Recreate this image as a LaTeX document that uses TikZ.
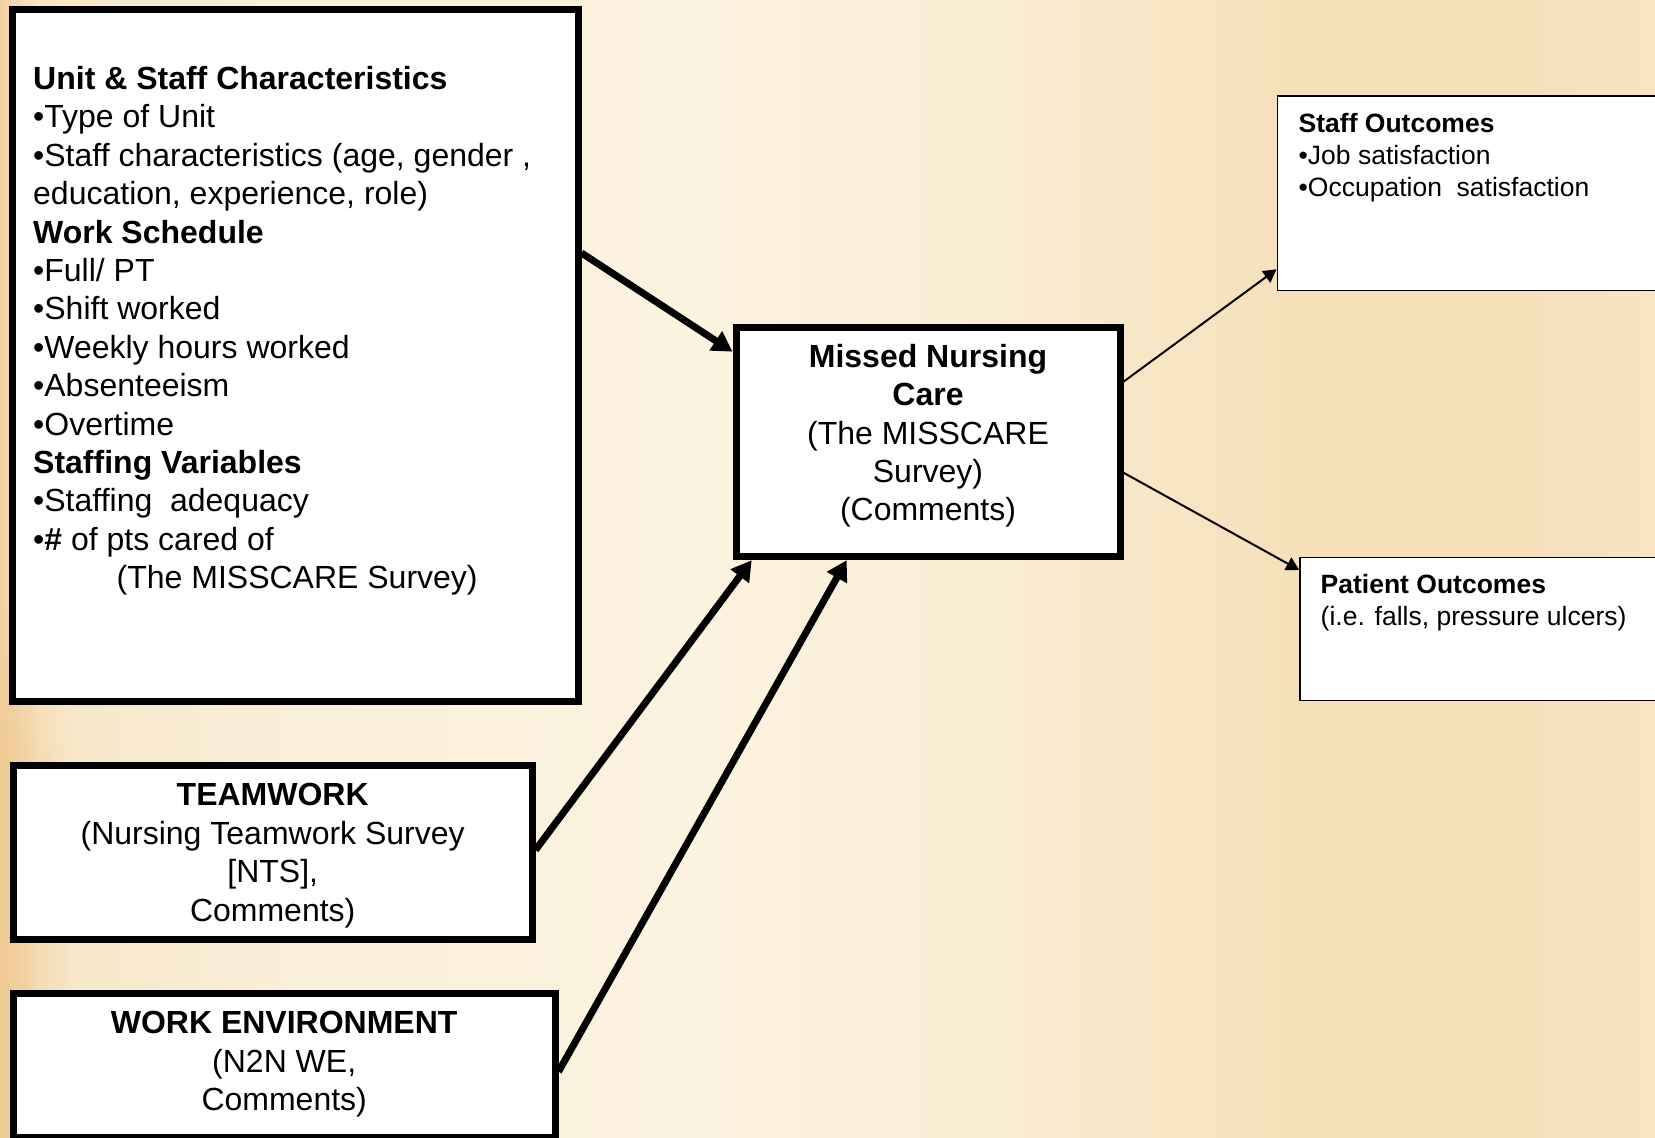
\documentclass[tikz,border=0pt]{standalone}
\usepackage{fontspec}
\setmainfont{Liberation Sans}
\usetikzlibrary{arrows.meta,fadings}
\definecolor{bga}{HTML}{F2D0A0}
\definecolor{bgb}{HTML}{F8E6C6}
\definecolor{bgc}{HTML}{FAEFDA}
\definecolor{bgd}{HTML}{FCF3E0}
\definecolor{bge}{HTML}{FAEDD3}
\definecolor{bgf}{HTML}{F6E0BA}
\definecolor{bgg}{HTML}{F5DFB8}
\definecolor{bgh}{HTML}{F7E4C3}
\definecolor{bgorange}{HTML}{EFC890}
\pgfdeclarehorizontalshading{bgshade}{100bp}{color(0bp)=(bga); color(25bp)=(bga); color(26.2bp)=(bgb); color(34bp)=(bgc); color(46bp)=(bgd); color(55bp)=(bge); color(64bp)=(bgf); color(70bp)=(bgg); color(75bp)=(bgh); color(100bp)=(bgh)}
\begin{document}
\begin{tikzpicture}[x=1pt,y=-1pt,
  thickbox/.style={rectangle, draw=black, line width=7pt, fill=white, inner sep=0pt},
  thinbox/.style={rectangle, draw=black, line width=1.5pt, fill=white, inner sep=0pt},
  bigarrow/.style={line width=7pt, -{Triangle[length=20pt,width=22pt]}},
  smallarrow/.style={line width=2pt, -{Triangle[length=13pt,width=14pt]}},
  bigtext/.style={font=\fontsize{32}{38.4}\selectfont, inner sep=0pt},
  smalltext/.style={font=\fontsize{26.5}{32.2}\selectfont, inner sep=0pt, align=left}]
\useasboundingbox (0,0) rectangle (1655,1138);
\begin{scope}
\clip (0,0) rectangle (1655,1138);
\shade[shading=bgshade] (0,0) rectangle (1655,1138);
\foreach \i in {0,...,15}{
  \fill[bgorange, path fading=east, opacity={0.05*\i}] (0,{600+10*\i}) rectangle (70,{610+10*\i});
}
\fill[bgorange, path fading=east, opacity=0.8] (0,760) rectangle (70,1138);

% boxes
\node[thickbox, minimum width=565.3pt, minimum height=691.7pt] (big) at (295.35,355.15) {};
\node[thickbox, minimum width=384pt, minimum height=229.7pt] (mnc) at (928,441.85) {};
\node[thickbox, minimum width=518.6pt, minimum height=173.7pt] (team) at (272.7,852.65) {};
\node[thickbox, minimum width=541.6pt, minimum height=144pt] (we) at (284.2,1065) {};
\node[thinbox, minimum width=422.7pt, minimum height=194.7pt] (staff) at (1488.65,193.35) {};
\node[thinbox, minimum width=400pt, minimum height=143.2pt] (patient) at (1500,628.9) {};

% texts
\node[bigtext, align=left, anchor=north west] (bigtxt) at (33,66.2) {\textbf{Unit \& Staff Characteristics}\\
•Type of Unit\\
•Staff characteristics (age, gender ,\\
education, experience, role)\\
\textbf{Work Schedule}\\
•Full/ PT\\
•Shift worked\\
•Weekly hours worked\\
•Absenteeism\\
•Overtime\\
\textbf{Staffing Variables}\\
•Staffing~ adequacy\\
•\textbf{\#} of pts cared of\\
\hspace*{83.5pt}(The MISSCARE Survey)};

\node[bigtext, align=center, anchor=north] (mnctxt) at (928,344) {\textbf{Missed Nursing}\\ \textbf{Care}\\ (The MISSCARE\\ Survey)\\ (Comments)};

\node[bigtext, align=center, anchor=north] (teamtxt) at (272.7,783.3) {\textbf{TEAMWORK}\\ (Nursing Teamwork Survey\\ {[NTS],}\\ Comments)};

\node[bigtext, align=center, anchor=north] (wetxt) at (284.2,1011.3) {\textbf{WORK ENVIRONMENT}\\ (N2N WE,\\ Comments)};

\node[smalltext, anchor=north west] (stafftxt) at (1298.5,112.6) {\textbf{Staff Outcomes}\\ •Job satisfaction\\ •Occupation~ satisfaction};

\node[smalltext, anchor=north west] (patienttxt) at (1320.5,573.9) {\textbf{Patient Outcomes}\\ (i.e. falls, pressure ulcers)};

% connectors
\draw[bigarrow] (big.east |- 0,253) -- (mnc.west |- 0,351.7);
\draw[bigarrow] (team.east |- 0,850) -- (mnc.south -| 751.7,0);
\draw[bigarrow] (we.east |- 0,1071.7) -- (mnc.south -| 846.7,0);
\draw[smallarrow] (mnc.east |- 0,381.7) -- (staff.west |- 0,269.3);
\draw[smallarrow] (mnc.east |- 0,472.7) -- (patient.west |- 0,570);
\end{scope}
\end{tikzpicture}
\end{document}
